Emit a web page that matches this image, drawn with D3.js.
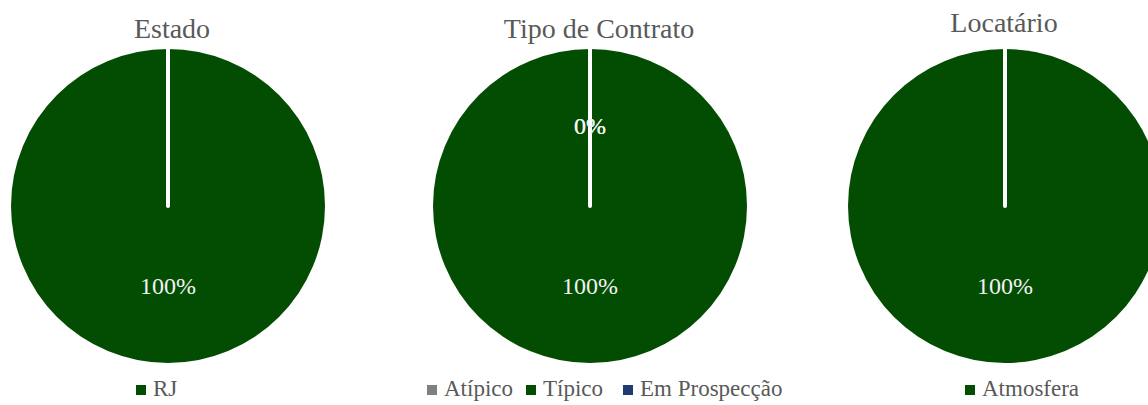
<!DOCTYPE html>
<html>
<head>
<meta charset="utf-8">
<script src="https://cdn.jsdelivr.net/npm/d3@7"></script>
<style>
  html, body { margin: 0; padding: 0; background: #fff; }
  svg { display: block; font-family: "Liberation Serif", "DejaVu Serif", serif; }
</style>
</head>
<body>
<div id="dataviz"></div>
<script>
// chart data
var estadoLabels = ["RJ"];
var estadoValues = [1];
var contratoLabels = ["Atípico", "Típico", "Em Prospecção"];
var contratoValues = [0, 1, 0];
var locatarioLabels = ["Atmosfera"];
var locatarioValues = [1];

var titles = ["Estado", "Tipo de Contrato", "Locatário"];
var colorMap = { "RJ": "#034d03", "Atípico": "#808080", "Típico": "#034d03", "Em Prospecção": "#1f3b73", "Atmosfera": "#034d03" };

var widthFull = 1148, heightFull = 405;
var radius = 157;

var svg = d3.select("#dataviz").append("svg")
    .attr("width", widthFull)
    .attr("height", heightFull)
    .attr("viewBox", `0 0 ${widthFull} ${heightFull}`);

// one panel per chart: center x, title position, legend layout
var panels = [
    { title: titles[0], labels: estadoLabels, values: estadoValues, cx: 168, titleX: 172, titleY: 38, legendX: [136] },
    { title: titles[1], labels: contratoLabels, values: contratoValues, cx: 590, titleX: 599, titleY: 38, legendX: [427, 526, 623] },
    { title: titles[2], labels: locatarioLabels, values: locatarioValues, cx: 1005, titleX: 1004, titleY: 32, legendX: [965] }
];
var cy = 206;

var pie = d3.pie().sort(null).value(d => d.value);
var arc = d3.arc().innerRadius(0).outerRadius(radius);
var labelArc = d3.arc().innerRadius(radius * 0.51).outerRadius(radius * 0.51);
var pct = d3.format(".0%");

panels.forEach(function(p) {
    var data = p.labels.map((l, i) => ({ label: l, value: p.values[i] }));
    var total = d3.sum(p.values);
    var arcs = pie(data);

    // title
    svg.append("text")
        .attr("x", p.titleX)
        .attr("y", p.titleY)
        .attr("text-anchor", "middle")
        .attr("fill", "#595959")
        .style("font-size", "28px")
        .text(p.title);

    var g = svg.append("g")
        .attr("transform", "translate(" + p.cx + "," + cy + ")");

    g.selectAll("path.slice")
        .data(arcs.filter(d => d.value > 0)).enter().append("path")
        .attr("class", "slice")
        .attr("d", arc)
        .attr("fill", d => colorMap[d.data.label]);

    // slice borders (white radial lines)
    g.selectAll("line.border")
        .data(arcs.filter(d => d.value > 0)).enter().append("line")
        .attr("class", "border")
        .attr("x1", 0).attr("y1", 0)
        .attr("x2", d => d3.pointRadial(d.startAngle, radius)[0])
        .attr("y2", d => d3.pointRadial(d.startAngle, radius)[1])
        .attr("stroke", "#fff")
        .attr("stroke-width", 4)
        .attr("stroke-linecap", "round");

    // data labels
    g.selectAll("text.lbl")
        .data(arcs).enter().append("text")
        .attr("class", "lbl")
        .attr("transform", d => "translate(" + labelArc.centroid(d) + ")")
        .attr("text-anchor", "middle")
        .attr("dy", "0.35em")
        .attr("fill", "#f2f2f2")
        .style("font-size", "24px")
        .text(d => pct(d.value / total));

    // legend
    var lg = svg.append("g");
    p.labels.forEach(function(l, i) {
        lg.append("rect")
            .attr("x", p.legendX[i])
            .attr("y", 385)
            .attr("width", 10)
            .attr("height", 10)
            .attr("fill", colorMap[l]);
        lg.append("text")
            .attr("x", p.legendX[i] + 17)
            .attr("y", 396)
            .attr("fill", "#595959")
            .style("font-size", "23px")
            .text(l);
    });
});
</script>
</body>
</html>
